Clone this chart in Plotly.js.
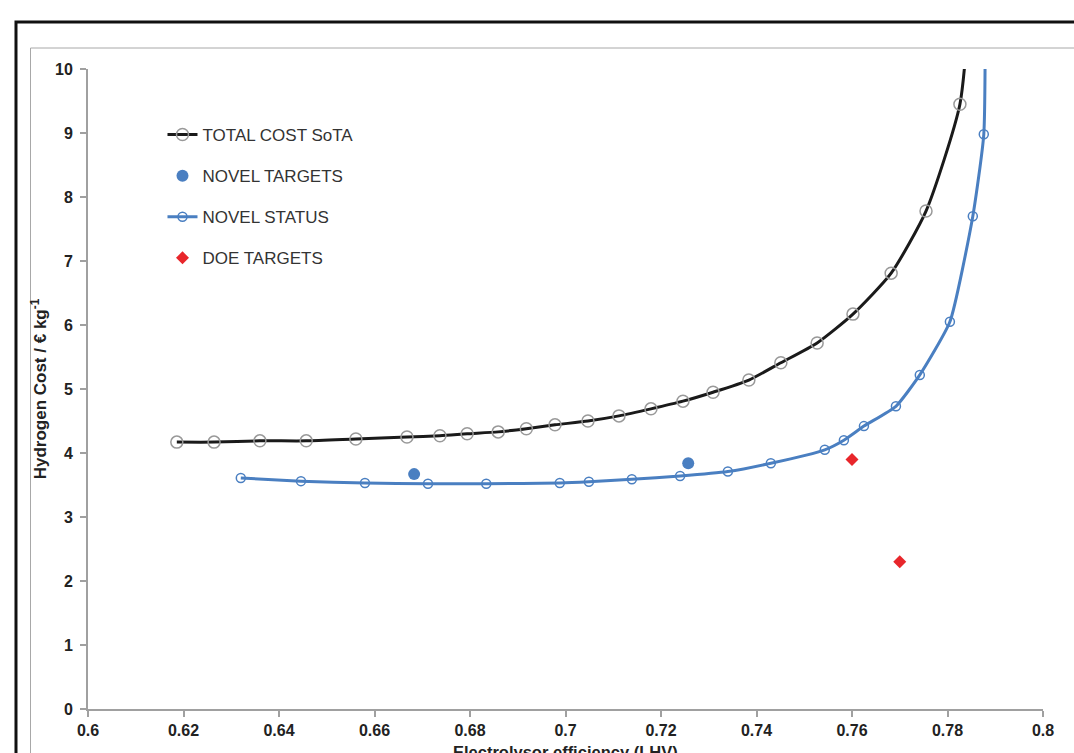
<!DOCTYPE html>
<html>
<head>
<meta charset="utf-8">
<script src="https://cdn.plot.ly/plotly-3.0.1.min.js"></script>
<style>html,body{margin:0;padding:0;background:#fff;}#chart{width:1074px;height:753px;}</style>
</head>
<body>
<div id="chart"></div>
<script>
// TOTAL COST SoTA
const sotaX = [0.6186, 0.6264, 0.6360, 0.6457, 0.6561, 0.6668, 0.6737, 0.6794, 0.6859, 0.6918, 0.6978, 0.7047, 0.7112, 0.7179, 0.7246, 0.7309, 0.7384, 0.7451, 0.7527, 0.7602, 0.7682, 0.7755, 0.7826, 0.7850];
const sotaY = [4.17, 4.17, 4.19, 4.19, 4.22, 4.25, 4.27, 4.30, 4.33, 4.38, 4.44, 4.50, 4.58, 4.69, 4.81, 4.95, 5.14, 5.41, 5.72, 6.17, 6.81, 7.78, 9.45, 11.5];
// NOVEL STATUS
const statusX = [0.6320, 0.6446, 0.6580, 0.6712, 0.6834, 0.6988, 0.7049, 0.7139, 0.7240, 0.7340, 0.7430, 0.7543, 0.7583, 0.7625, 0.7692, 0.7742, 0.7805, 0.7853, 0.7876, 0.7879];
const statusY = [3.61, 3.56, 3.53, 3.52, 3.52, 3.53, 3.55, 3.59, 3.64, 3.71, 3.84, 4.05, 4.20, 4.42, 4.73, 5.22, 6.05, 7.70, 8.98, 11.5];
// NOVEL TARGETS
const targetX = [0.6683, 0.7257];
const targetY = [3.67, 3.84];
// DOE TARGETS
const doeX = [0.76, 0.77];
const doeY = [3.90, 2.30];

const xTicks = [0.6, 0.62, 0.64, 0.66, 0.68, 0.7, 0.72, 0.74, 0.76, 0.78, 0.8];
const xTickText = ['0.6', '0.62', '0.64', '0.66', '0.68', '0.7', '0.72', '0.74', '0.76', '0.78', '0.8'];
const yTicks = [0, 1, 2, 3, 4, 5, 6, 7, 8, 9, 10];
const xTitle = 'Electrolysor efficiency (LHV)';
const yTitle = 'Hydrogen Cost / € kg<sup>-1</sup>';

const FONT = 'Liberation Sans, Arial, sans-serif';

const traces = [
  {
    x: sotaX, y: sotaY, type: 'scatter', mode: 'lines+markers', name: 'TOTAL COST SoTA',
    legendgroup: 'a',
    line: {color: '#1a1a1a', width: 3, shape: 'spline', smoothing: 0.6},
    marker: {symbol: 'circle-open', size: 12, color: '#999999', line: {width: 1.5, color: '#999999'}}
  },
  {
    x: targetX, y: targetY, type: 'scatter', mode: 'markers', name: 'NOVEL TARGETS',
    legendgroup: 'b',
    marker: {symbol: 'circle', size: 12, color: '#4a7fc1'}
  },
  {
    x: statusX, y: statusY, type: 'scatter', mode: 'lines+markers', name: 'NOVEL STATUS',
    legendgroup: 'c',
    line: {color: '#4a7fc1', width: 3, shape: 'spline', smoothing: 0.5},
    marker: {symbol: 'circle-open', size: 9, color: '#4a7fc1', line: {width: 1.5, color: '#4a7fc1'}}
  },
  {
    x: doeX, y: doeY, type: 'scatter', mode: 'markers', name: 'DOE TARGETS',
    legendgroup: 'd',
    marker: {symbol: 'diamond', size: 10, color: '#e8262b'}
  }
];

const layout = {
  width: 1074, height: 753,
  margin: {l: 88, r: 31, t: 69, b: 44},
  paper_bgcolor: '#ffffff', plot_bgcolor: '#ffffff',
  font: {family: FONT, color: '#222222'},
  showlegend: true,
  legend: {
    x: 0.078, y: 0.925, xanchor: 'left', yanchor: 'top',
    bgcolor: 'rgba(0,0,0,0)', font: {family: FONT, size: 17, color: '#333333'},
    traceorder: 'grouped', tracegroupgap: 16, itemwidth: 30
  },
  xaxis: {
    range: [0.6, 0.8], tickvals: xTicks, ticktext: xTickText,
    showgrid: false, zeroline: false,
    showline: true, linecolor: '#a0a0a0', linewidth: 2,
    ticks: 'outside', ticklen: 6, tickcolor: '#a0a0a0', tickwidth: 2,
    tickfont: {family: FONT, size: 16, color: '#222222', weight: 'bold'}
  },
  yaxis: {
    range: [0, 10], tickvals: yTicks,
    showgrid: false, zeroline: false,
    showline: true, linecolor: '#a0a0a0', linewidth: 2,
    ticks: 'outside', ticklen: 6, tickcolor: '#a0a0a0', tickwidth: 2, ticklabelstandoff: 4,
    tickfont: {family: FONT, size: 16, color: '#222222', weight: 'bold'},
    title: {text: '<b>' + yTitle + '</b>', font: {family: FONT, size: 17, color: '#222222'}, standoff: 4}
  },
  annotations: [
    {xref: 'paper', yref: 'paper', x: 0.5, y: -0.05, xanchor: 'center', yanchor: 'top',
     text: '<b>' + xTitle + '</b>', showarrow: false,
     font: {family: FONT, size: 16.5, color: '#222222'}}
  ],
  shapes: [
    {type: 'rect', xref: 'paper', yref: 'paper', x0: -0.0754, x1: 1.2, y0: -0.3, y1: 1.0734,
     line: {color: '#111111', width: 3}, fillcolor: 'rgba(0,0,0,0)', layer: 'below'},
    {type: 'rect', xref: 'paper', yref: 'paper', x0: -0.0602, x1: 1.2, y0: -0.3, y1: 1.0328,
     line: {color: '#a8a8a8', width: 1}, fillcolor: 'rgba(0,0,0,0)', layer: 'below'}
  ]
};

Plotly.newPlot('chart', traces, layout, {displayModeBar: false, staticPlot: true});
</script>
</body>
</html>
